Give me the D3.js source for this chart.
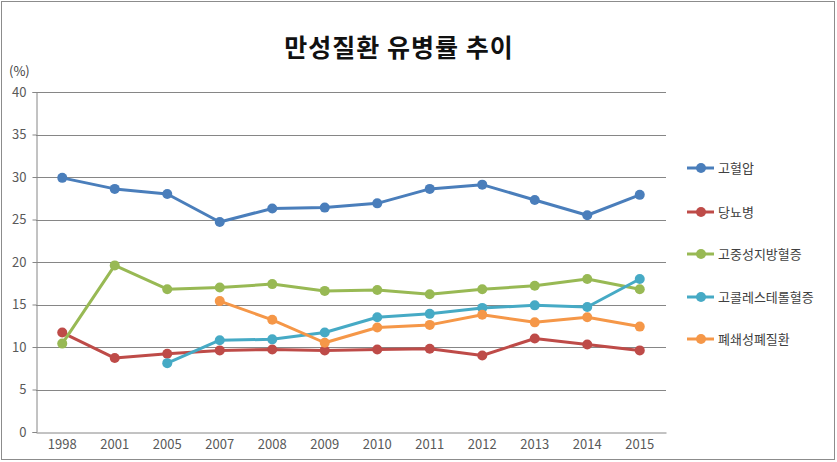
<!DOCTYPE html>
<html><head><meta charset="utf-8">
<script src="https://cdn.jsdelivr.net/npm/d3@7"></script>
<style>body{margin:0;background:#fff}svg{display:block}</style>
</head><body><svg id="c" width="837" height="462"></svg>
<script>
const years = ["1998","2001","2005","2007","2008","2009","2010","2011","2012","2013","2014","2015"];
const hypertension = [29.9,28.6,28.0,24.7,26.3,26.4,26.9,28.6,29.1,27.3,25.5,27.9];
const diabetes = [11.7,8.7,9.2,9.6,9.7,9.6,9.7,9.8,9.0,11.0,10.3,9.6];
const hypertriglyceridemia = [10.4,19.6,16.8,17.0,17.4,16.6,16.7,16.2,16.8,17.2,18.0,16.8];
const hypercholesterolemia = [null,null,8.1,10.8,10.9,11.7,13.5,13.9,14.6,14.9,14.7,18.0];
const copd = [null,null,null,15.4,13.2,10.5,12.3,12.6,13.8,12.9,13.5,12.4];
const seriesNames = ["고혈압","당뇨병","고중성지방혈증","고콜레스테롤혈증","폐쇄성폐질환"];
const seriesColors = ["#4A7EBB","#BE4B48","#98B954","#46AAC5","#F59748"];
const yTicks = [0,5,10,15,20,25,30,35,40];

const series = [hypertension,diabetes,hypertriglyceridemia,hypercholesterolemia,copd];
const svg = d3.select("#c");
const font = "'Noto Sans CJK KR','DejaVu Sans',sans-serif";

svg.append("rect").attr("x",1.5).attr("y",1.5).attr("width",833).attr("height",458)
  .attr("fill","#fff").attr("stroke","#8c8c8c").attr("stroke-width",1);

const L=36, R=666, T=92, B=432;
const x = d3.scaleBand().domain(years).range([L,R]);
const y = d3.scaleLinear().domain([0,40]).range([B,T]);

// gridlines
svg.append("g").selectAll("line").data(yTicks.filter(d=>d>0)).join("line")
  .attr("x1",L).attr("x2",R).attr("y1",d=>Math.round(y(d))+0.5).attr("y2",d=>Math.round(y(d))+0.5)
  .attr("stroke","#868686").attr("stroke-width",1);

// y axis
const ya = svg.append("g").attr("transform",`translate(${L+0.5},0)`)
  .call(d3.axisLeft(y).tickValues(yTicks).tickSize(4).tickPadding(6));
ya.select(".domain").attr("stroke","#868686");
ya.selectAll(".tick line").attr("stroke","#868686");
ya.selectAll("text").attr("font-family",font).attr("font-size",13).attr("fill","#595959");

// x axis
const xa = svg.append("g").attr("transform",`translate(0,${B+0.5})`)
  .call(d3.axisBottom(x).tickSize(0).tickPadding(7));
xa.select(".domain").attr("stroke","#868686");
xa.selectAll("text").attr("font-family",font).attr("font-size",13).attr("fill","#595959");

svg.append("text").attr("x",9).attr("y",76).text("(%)")
  .attr("font-family",font).attr("font-size",13).attr("fill","#404040");

// title
svg.append("text").attr("x",399).attr("y",57).attr("text-anchor","middle")
  .attr("font-family",font).attr("font-weight","bold").attr("font-size",25).attr("letter-spacing",1)
  .attr("fill","#111")
  .text("만성질환 유병률 추이");

// lines
const line = d3.line().defined(d=>d.v!=null).x(d=>x(d.k)+x.bandwidth()/2).y(d=>y(d.v));
series.forEach((s,i)=>{
  const pts = years.map((k,j)=>({k,v:s[j]}));
  svg.append("path").attr("d",line(pts)).attr("fill","none")
    .attr("stroke",seriesColors[i]).attr("stroke-width",3).attr("stroke-linejoin","round");
  svg.append("g").selectAll("circle").data(pts.filter(d=>d.v!=null)).join("circle")
    .attr("cx",d=>x(d.k)+x.bandwidth()/2).attr("cy",d=>y(d.v)).attr("r",5)
    .attr("fill",seriesColors[i]);
});

// legend
const lg = svg.append("g");
const ly = [168,212,254,297,339];
seriesNames.forEach((n,i)=>{
  const g = lg.append("g").attr("transform",`translate(0,${ly[i]})`);
  g.append("line").attr("x1",687).attr("x2",714).attr("stroke",seriesColors[i]).attr("stroke-width",3);
  g.append("circle").attr("cx",701).attr("cy",0).attr("r",5).attr("fill",seriesColors[i]);
  g.append("text").attr("x",718).attr("y",5).text(n)
    .attr("font-family",font).attr("font-size",13).attr("fill","#404040");
});
</script></body></html>
